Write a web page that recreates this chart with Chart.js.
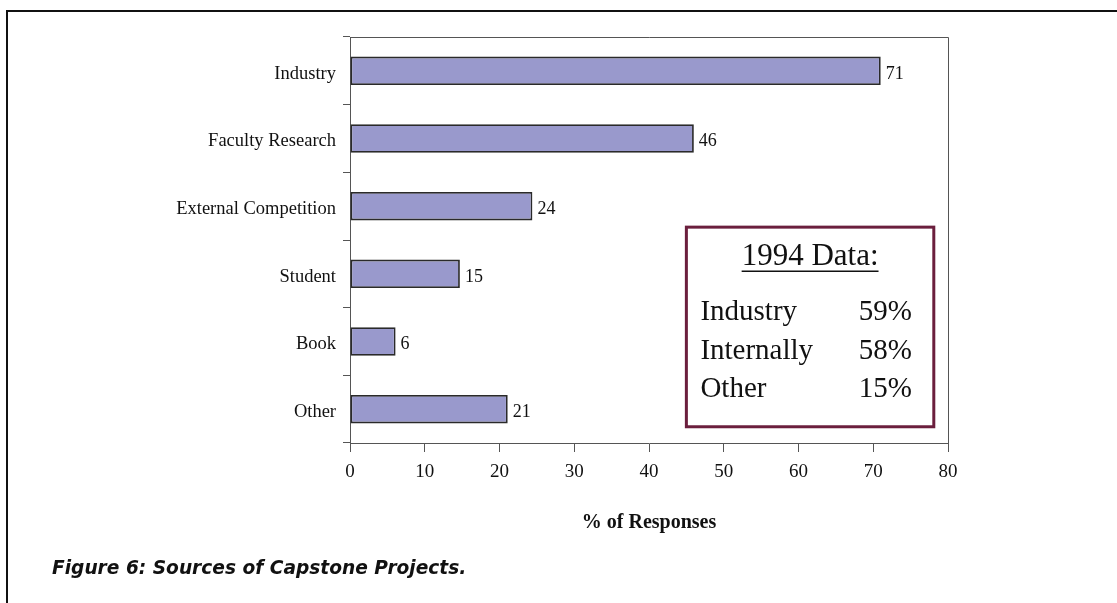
<!DOCTYPE html>
<html>
<head>
<meta charset="utf-8">
<script src="https://cdn.jsdelivr.net/npm/chart.js@4.4.1/dist/chart.umd.min.js"></script>
<style>
    body { margin: 0; background: #fff; }
    #wrap { position: relative; width: 1117px; height: 603px; overflow: hidden; }
    #frame { position: absolute; left: 6px; top: 10px; right: -5px; bottom: -5px;
             border-top: 2px solid #111; border-left: 2px solid #111; }
    #caption { position: absolute; left: 52px; top: 557px; font: oblique 700 18.6px "DejaVu Sans", sans-serif;
               color: #111; white-space: nowrap; }
    canvas { position: absolute; left: 0; top: 0; }
</style>
</head>
<body>
<div id="wrap">
    <div id="frame"></div>
    <canvas id="capstoneChart" width="1117" height="603"></canvas>
    <div id="caption">Figure 6: Sources of Capstone Projects.</div>
</div>
<script>
const categories = ['Industry', 'Faculty Research', 'External Competition', 'Student', 'Book', 'Other'];
const responses = [71, 46, 24.4, 14.7, 6.1, 21.1];
const shownLabels = ['71', '46', '24', '15', '6', '21'];
const xTicks = [0, 10, 20, 30, 40, 50, 60, 70, 80];

const boxTitle = '1994 Data:';
const boxRows = ['Industry', 'Internally', 'Other'];
const boxValues = ['59%', '58%', '15%'];

const serif = '"Liberation Serif", "Times New Roman", serif';

// valeurs au bout des barres
const barLabels = {
    id: 'barLabels',
    afterDatasetsDraw(chart) {
        const ctx = chart.ctx;
        const bars = chart.getDatasetMeta(0).data;
        ctx.save();
        ctx.font = '18px ' + serif;
        ctx.fillStyle = '#111';
        ctx.textBaseline = 'middle';
        bars.forEach((bar, i) => {
            ctx.fillText(shownLabels[i], bar.x + 5, bar.y + 3);
        });
        ctx.restore();
    }
};

// cadre du graphique + encadré 1994
const extras = {
    id: 'extras',
    afterDraw(chart) {
        const ctx = chart.ctx;
        const a = chart.chartArea;
        const x = chart.scales.x;
        const y = chart.scales.y;
        ctx.save();
        ctx.strokeStyle = '#555';
        ctx.lineWidth = 1;
        ctx.beginPath();
        ctx.moveTo(a.left, a.top + 0.5);
        ctx.lineTo(a.right + 0.5, a.top + 0.5);
        ctx.lineTo(a.right + 0.5, a.bottom);
        ctx.stroke();

        const left = x.getPixelForValue(45);
        const right = x.getPixelForValue(78.1);
        const top = y.getPixelForValue(2.31);
        const bottom = y.getPixelForValue(5.26);
        ctx.strokeStyle = '#6b1f3d';
        ctx.lineWidth = 3;
        ctx.strokeRect(left, top, right - left, bottom - top);

        ctx.fillStyle = '#111';
        ctx.textBaseline = 'alphabetic';
        ctx.font = '31px ' + serif;
        ctx.textAlign = 'center';
        const cx = (left + right) / 2;
        ctx.fillText(boxTitle, cx, top + 38);
        const w = ctx.measureText(boxTitle).width;
        ctx.lineWidth = 1.5;
        ctx.strokeStyle = '#111';
        ctx.beginPath();
        ctx.moveTo(cx - w / 2, top + 44);
        ctx.lineTo(cx + w / 2, top + 44);
        ctx.stroke();

        ctx.font = '29px ' + serif;
        boxRows.forEach((row, i) => {
            const by = top + 93 + i * 38.5;
            ctx.textAlign = 'left';
            ctx.fillText(row, left + 14, by);
            ctx.textAlign = 'right';
            ctx.fillText(boxValues[i], right - 22, by);
        });
        ctx.restore();
    }
};

const ctx = document.getElementById('capstoneChart').getContext('2d');
const capstoneChart = new Chart(ctx, {
    type: 'bar',
    data: {
        labels: categories,
        datasets: [{
            data: responses,
            backgroundColor: '#9999cc',
            borderColor: '#2a2a2a',
            borderWidth: 1.8,
            borderSkipped: false,
            categoryPercentage: 1,
            barPercentage: 0.42
        }]
    },
    options: {
        indexAxis: 'y',
        responsive: false,
        animation: false,
        layout: {
            padding: { top: 37, right: 169, left: 0, bottom: 65 }
        },
        plugins: {
            legend: { display: false },
            tooltip: { enabled: false }
        },
        scales: {
            x: {
                min: 0,
                max: 80,
                afterBuildTicks: (scale) => {
                    scale.ticks = xTicks.map(v => ({ value: v }));
                },
                afterFit: (scale) => { scale.height = 95; },
                ticks: {
                    color: '#111',
                    padding: 9,
                    font: { family: serif, size: 19 }
                },
                grid: {
                    drawOnChartArea: false,
                    tickLength: 9,
                    color: '#555'
                },
                border: { color: '#555' },
                title: {
                    display: true,
                    text: '% of Responses',
                    color: '#111',
                    padding: { top: 0, bottom: 3 },
                    font: { family: serif, size: 20, weight: 'bold' }
                }
            },
            y: {
                afterFit: (scale) => { scale.width = 350; },
                ticks: {
                    color: '#111',
                    padding: 7,
                    labelOffset: 3,
                    font: { family: serif, size: 18.5 }
                },
                grid: {
                    offset: true,
                    drawOnChartArea: false,
                    tickLength: 7,
                    color: '#555'
                },
                border: { color: '#555' }
            }
        }
    },
    plugins: [barLabels, extras]
});
</script>
</body>
</html>
